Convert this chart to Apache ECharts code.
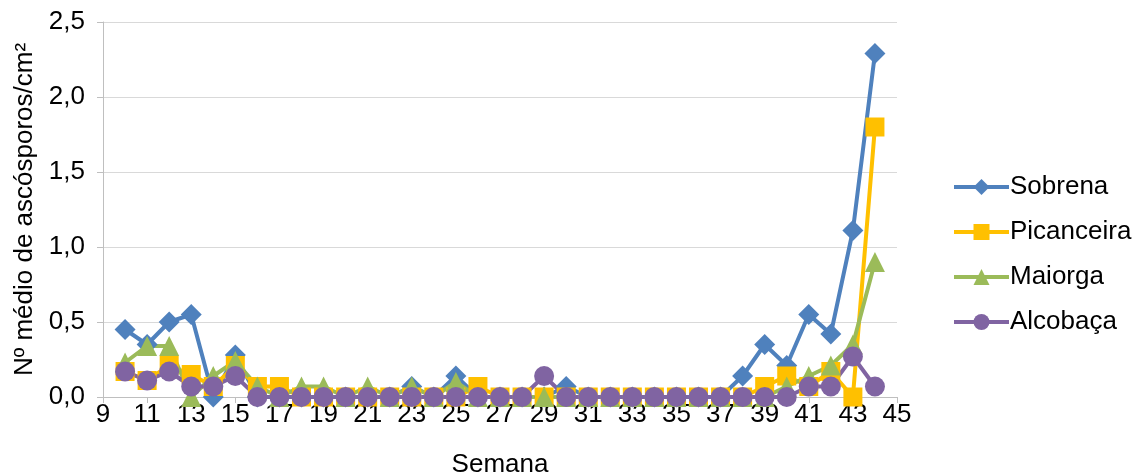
<!DOCTYPE html>
<html><head><meta charset="utf-8">
<script src="https://cdn.jsdelivr.net/npm/echarts@6/dist/echarts.min.js"></script>
<style>html,body{margin:0;padding:0;background:#fff}#c{width:1135px;height:475px}</style>
</head><body><div id="c"></div>
<script>
const weeks = [10,11,12,13,14,15,16,17,18,19,20,21,22,23,24,25,26,27,28,29,30,31,32,33,34,35,36,37,38,39,40,41,42,43,44];
const sobrena    = [0.45,0.35,0.50,0.55,0,0.28,0,0,0,0,0,0,0,0.07,0,0.14,0,0,0,0,0.07,0,0,0,0,0,0,0,0.14,0.35,0.21,0.55,0.42,1.11,2.29];
const picanceira = [0.17,0.11,0.21,0.15,0.07,0.21,0.07,0.07,0,0,0,0,0,0,0,0,0.07,0,0,0,0,0,0,0,0,0,0,0,0,0.07,0.14,0.07,0.17,0,1.80];
const maiorga    = [0.23,0.34,0.34,0,0.14,0.24,0.07,0,0.07,0.07,0,0.07,0,0.07,0,0.10,0,0,0,0,0,0,0,0,0,0,0,0,0,0,0.07,0.14,0.21,0.35,0.90];
const alcobaca   = [0.17,0.11,0.17,0.07,0.07,0.14,0,0,0,0,0,0,0,0,0,0,0,0,0,0.14,0,0,0,0,0,0,0,0,0,0,0,0.07,0.07,0.27,0.07];
const seriesNames = ['Sobrena','Picanceira','Maiorga','Alcobaça'];
const xMin = 9, xMax = 45, xStep = 2;
const yMin = 0, yMax = 2.5, yStep = 0.5;

const font = 'Liberation Sans, Arial, sans-serif';
const fs = 26;
const colors = ['#4f81bd','#ffc000','#9bbb59','#8064a2'];
const symbols = ['diamond','rect','triangle','circle'];
const sizes = [21,19,20,20];
const vals = [sobrena, picanceira, maiorga, alcobaca];

const chart = echarts.init(document.getElementById('c'));
chart.setOption({
  animation: false,
  color: colors,
  grid: {left: 103, right: 238, top: 22, bottom: 78, containLabel: false, outerBoundsMode: 'none'},
  legend: {
    orient: 'vertical', left: 952, top: 174, padding: 0,
    itemWidth: 55, itemHeight: 20, itemGap: 19,
    lineStyle: {width: 4},
    textStyle: {fontFamily: font, fontSize: fs, color: '#000', padding:[0,0,0,-4]},
    data: seriesNames
  },
  xAxis: {
    type: 'value', min: xMin, max: xMax, interval: xStep,
    name: 'Semana', nameLocation: 'middle', nameGap: 55,
    nameTextStyle: {fontFamily: font, fontSize: fs, color: '#000'},
    axisLine: {show: true, lineStyle: {color: '#bfbfbf', width: 1}},
    axisTick: {show: true, length: 6, lineStyle: {color: '#bfbfbf'}},
    axisLabel: {fontFamily: font, fontSize: fs, color: '#000', margin: 5},
    splitLine: {show: false}
  },
  yAxis: {
    type: 'value', min: yMin, max: yMax, interval: yStep,
    name: 'Nº médio de ascósporos/cm²', nameLocation: 'middle', nameGap: 60,
    nameTextStyle: {fontFamily: font, fontSize: fs, color: '#000'},
    axisLine: {show: true, lineStyle: {color: '#bfbfbf', width: 1}},
    axisTick: {show: true, length: 6, lineStyle: {color: '#bfbfbf'}},
    axisLabel: {fontFamily: font, fontSize: fs, color: '#000', margin: 18,
      formatter: v => v.toFixed(1).replace('.', ',')},
    splitLine: {show: true, lineStyle: {color: '#d9d9d9', width: 1}}
  },
  series: seriesNames.map((n, i) => ({
    name: n, type: 'line',
    data: weeks.map((w, j) => [w, vals[i][j]]),
    symbol: symbols[i], symbolSize: sizes[i], showAllSymbol: true,
    lineStyle: {width: 4, color: colors[i]},
    itemStyle: {color: colors[i]}
  }))
});
</script></body></html>
